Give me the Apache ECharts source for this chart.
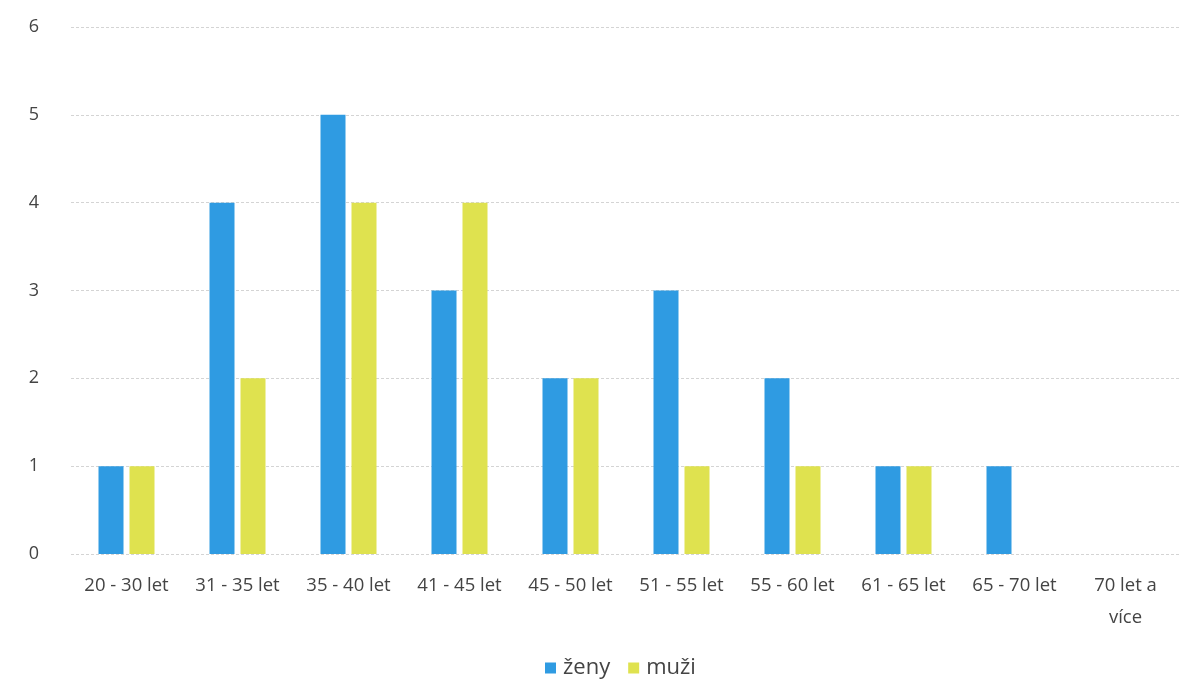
<!DOCTYPE html>
<html>
<head>
<meta charset="utf-8">
<script src="https://cdn.jsdelivr.net/npm/echarts@6/dist/echarts.min.js"></script>
<style>html,body{margin:0;padding:0;background:#fff}#c{width:1203px;height:700px}</style>
</head>
<body>
<div id="c"></div>
<script>
const categories = ['20 - 30 let','31 - 35 let','35 - 40 let','41 - 45 let','45 - 50 let','51 - 55 let','55 - 60 let','61 - 65 let','65 - 70 let','70 let a\nvíce'];
const zeny = [1,4,5,3,2,3,2,1,1,0];
const muzi = [1,2,4,4,2,1,1,1,0,0];
const yTicks = [0,1,2,3,4,5,6];

const chart = echarts.init(document.getElementById('c'));
chart.setOption({
  animation:false,
  grid:{left:71,right:22,top:27,bottom:146},
  legend:{top:652,left:540,itemWidth:11,itemHeight:11,itemGap:18,icon:'rect',
    textStyle:{fontSize:22,color:'#444',fontFamily:'Open Sans',padding:[0,0,0,2]},data:['ženy','muži']},
  xAxis:{type:'category',data:categories,
    axisLine:{show:false},axisTick:{show:false},
    axisLabel:{interval:0,fontSize:18.5,color:'#444',fontFamily:'Open Sans',margin:16,lineHeight:32}},
  yAxis:{type:'value',min:0,max:6,interval:1,
    axisLine:{show:false},axisTick:{show:false},
    axisLabel:{fontSize:18,color:'#444',fontFamily:'Open Sans',margin:32,
      formatter:v=>yTicks.includes(v)?String(v):''},
    splitLine:{lineStyle:{color:'#d4d4d4',type:[3,2],width:1}}},
  series:[
    {name:'ženy',type:'bar',data:zeny,barWidth:25,barGap:'24%',
     itemStyle:{color:'#2f9be2'}},
    {name:'muži',type:'bar',data:muzi,barWidth:25,
     itemStyle:{color:'#dfe24f'}}
  ]
});
</script>
</body>
</html>
